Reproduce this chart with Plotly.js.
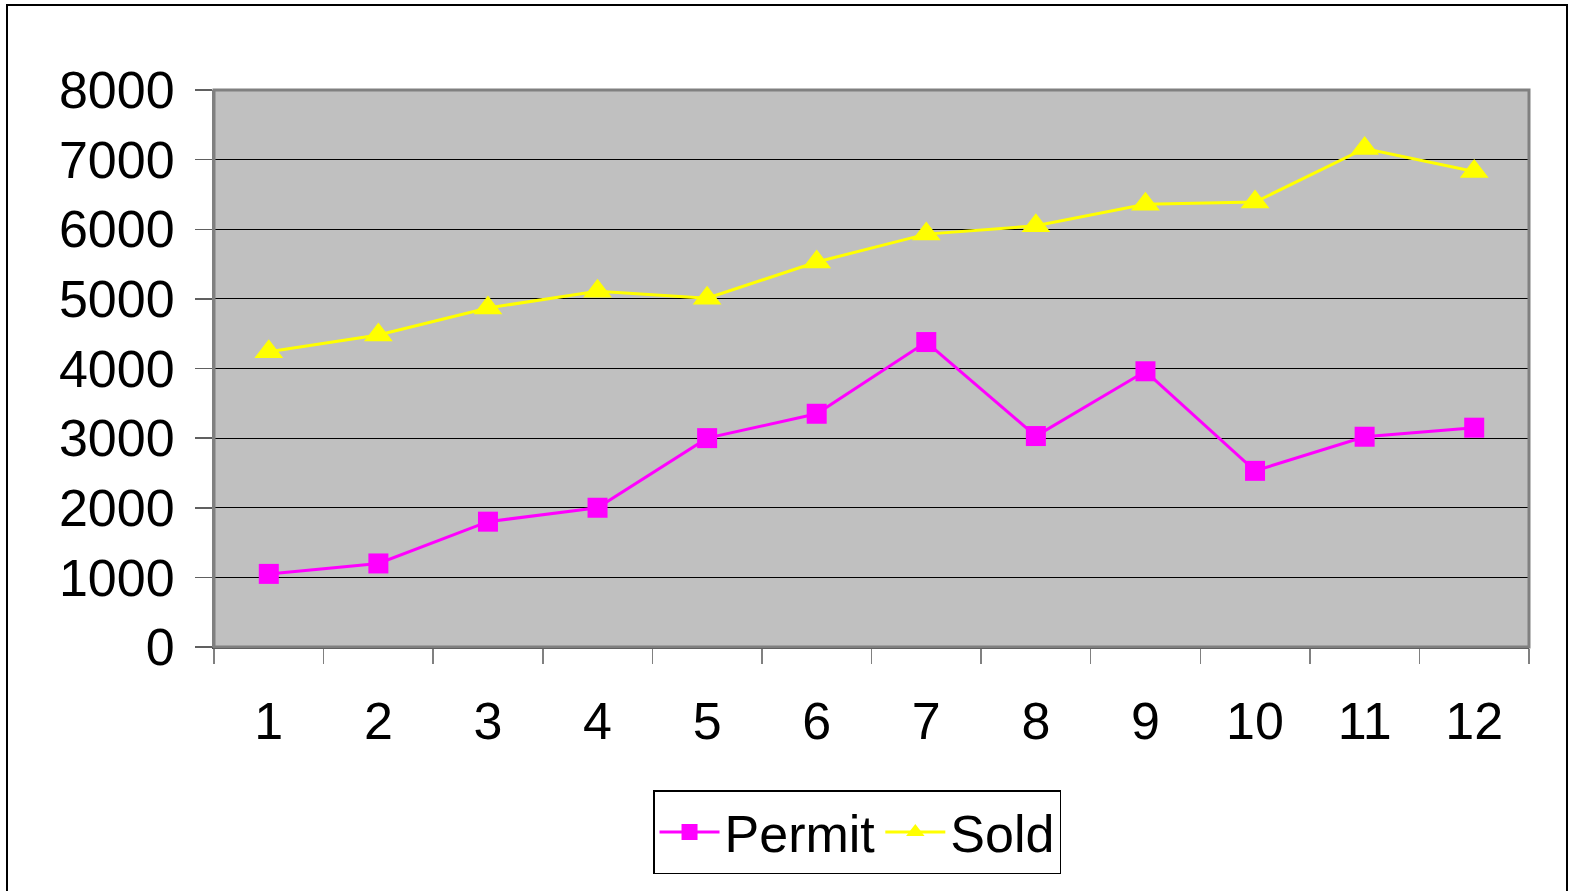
<!DOCTYPE html>
<html>
<head>
<meta charset="utf-8">
<script src="https://cdn.plot.ly/plotly-3.0.1.min.js"></script>
<style>
  html, body { margin: 0; padding: 0; background: #fff; }
  #wrap { position: relative; width: 1572px; height: 891px; overflow: hidden; }
  #chart { position: absolute; left: 0; top: 0; width: 1572px; height: 891px; }
  #frame { position: absolute; left: 6px; top: 4px; width: 1562px; height: 900px;
           border: 2px solid #000; box-sizing: border-box; pointer-events: none; }
</style>
</head>
<body>
<div id="wrap">
  <div id="chart"></div>
  <div id="frame"></div>
</div>
<script>
const categories = ["1","2","3","4","5","6","7","8","9","10","11","12"];
const permit = [1050, 1200, 1800, 2000, 3000, 3350, 4380, 3030, 3960, 2530, 3020, 3150];
const sold   = [4240, 4480, 4870, 5110, 5010, 5530, 5930, 6050, 6360, 6390, 7160, 6830];
const yTicks = [0, 1000, 2000, 3000, 4000, 5000, 6000, 7000, 8000];

const FONT = "Liberation Sans, Arial, sans-serif";

const traces = [
  {
    x: categories, y: permit, name: "Permit", type: "scatter", mode: "lines+markers",
    line: { color: "#FF00FF", width: 3 },
    marker: { symbol: "square", size: 20, color: "#FF00FF" }
  },
  {
    x: categories, y: sold, name: "Sold", type: "scatter", mode: "lines+markers",
    line: { color: "#FFFF00", width: 3 },
    marker: { symbol: "triangle-up", size: 25, color: "#FFFF00" }
  }
];

const layout = {
  width: 1572, height: 891,
  margin: { l: 214, r: 43, t: 90, b: 244 },
  paper_bgcolor: "rgba(0,0,0,0)",
  plot_bgcolor: "#C0C0C0",
  font: { family: FONT, size: 52, color: "#000" },
  showlegend: true,
  xaxis: {
    type: "category",
    range: [-0.5, 11.5],
    tickson: "boundaries",
    ticks: "outside", ticklen: 15, tickwidth: 1.5, tickcolor: "#808080",
    showgrid: false, zeroline: false,
    showline: true, linecolor: "#404040", linewidth: 2,
    tickfont: { family: FONT, size: 52, color: "#000" },
    ticklabelstandoff: 28,
    fixedrange: true
  },
  yaxis: {
    range: [0, 8000],
    tickvals: yTicks,
    ticktext: yTicks.map(String),
    ticks: "outside", ticklen: 17, tickwidth: 1.5, tickcolor: "#606060",
    showgrid: true, gridcolor: "#000", gridwidth: 1,
    zeroline: false,
    showline: true, linecolor: "#808080", linewidth: 2,
    tickfont: { family: FONT, size: 52, color: "#000" },
    ticklabelstandoff: 10,
    fixedrange: true
  },
  legend: {
    orientation: "h",
    x: 0.489, xanchor: "center",
    y: -0.257, yanchor: "top",
    bgcolor: "#fff", bordercolor: "#000", borderwidth: 1.5,
    font: { family: FONT, size: 52, color: "#000" },
    itemwidth: 60
  },
  shapes: [
    { type: "rect", xref: "paper", yref: "paper", x0: 0, x1: 1, y0: 0, y1: 1,
      line: { color: "#808080", width: 3 }, layer: "above" }
  ]
};

Plotly.newPlot("chart", traces, layout, { displayModeBar: false, staticPlot: true });
</script>
</body>
</html>
